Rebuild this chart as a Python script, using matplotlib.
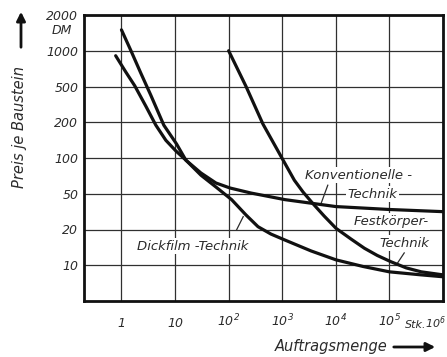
"""Stückpreis je Baustein über der Auftragsmenge für drei Fertigungstechniken."""

import matplotlib

matplotlib.use("Agg")
import matplotlib.pyplot as plt
import numpy as np
from matplotlib.patches import FancyArrowPatch
from matplotlib.ticker import NullLocator

# --- data (x in Stück, y in DM) ---
dick_x = [1, 1.49, 2.29, 3.53, 6.17, 10.7, 15.9, 30.4, 57.9, 114, 210, 353,
          617, 1125, 3450, 1.01e4, 3.24e4, 1.0e5, 3.9e5, 1.0e6]
dick_y = [1500, 1010, 650, 400, 189, 131, 96, 71.7, 57, 42.9, 29.1, 21.5,
          18.3, 16.3, 13.2, 11.1, 9.76, 8.8, 8.3, 8.0]

konv_x = [0.78, 1.20, 1.77, 2.85, 4.38, 6.73, 10.3, 15.9, 30.4, 57.9, 106,
          261, 1125, 1.0e4, 1.0e5, 1.0e6]
konv_y = [908, 664, 507, 302, 189, 141, 115, 96, 74.8, 61.6, 55.9,
          50.7, 43, 36, 33.4, 31.6]

fest_x = [100, 210, 437, 1094, 1683, 2447, 3715, 6040, 1.01e4, 1.93e4,
          3.42e4, 5.92e4, 1.07e5, 2.06e5, 3.93e5, 1.0e6]
fest_y = [1000, 503, 193, 92, 65, 51.7, 39, 28.3, 20.6, 16.6,
          13.9, 12.1, 10.7, 9.5, 8.8, 8.3]

x_ticks = [1, 10, 1e2, 1e3, 1e4, 1e5, 1e6]
x_labels = ["1", "10", "10$^2$", "10$^3$", "10$^4$", "10$^5$", ""]
y_steps = [5, 10, 20, 50, 100, 200, 500, 1000, 2000]
y_ticks = [10, 20, 50, 100, 200, 500, 1000, 2000]
y_labels = ["10", "20", "50", "100", "200", "500", "1000", "2000"]

W, H = 447, 357
INK = "#2b2b2b"

plt.rcParams["font.family"] = "DejaVu Sans"
plt.rcParams["font.style"] = "italic"
plt.rcParams["mathtext.fontset"] = "custom"
plt.rcParams["mathtext.rm"] = "DejaVu Sans:italic"
plt.rcParams["mathtext.it"] = "DejaVu Sans:italic"
plt.rcParams["mathtext.default"] = "rm"

# the price axis is drawn with equal spacing between the 1-2-5 steps
_ylog = np.log10(y_steps)
_yidx = np.arange(len(y_steps), dtype=float)


def _fwd(v):
    lv = np.log10(np.clip(np.asarray(v, dtype=float), 1e-12, None))
    out = np.interp(lv, _ylog, _yidx)
    out = np.where(lv < _ylog[0], (lv - _ylog[0]) / (_ylog[1] - _ylog[0]), out)
    out = np.where(lv > _ylog[-1],
                   _yidx[-1] + (lv - _ylog[-1]) / (_ylog[-1] - _ylog[-2]), out)
    return out


def _inv(i):
    i = np.asarray(i, dtype=float)
    lv = np.interp(i, _yidx, _ylog)
    lv = np.where(i < 0, _ylog[0] + i * (_ylog[1] - _ylog[0]), lv)
    lv = np.where(i > _yidx[-1],
                  _ylog[-1] + (i - _yidx[-1]) * (_ylog[-1] - _ylog[-2]), lv)
    return 10.0 ** lv


def fx(px):
    return px / W


def fy(py):
    return 1 - py / H


fig = plt.figure(figsize=(W / 100, H / 100), dpi=100)
ax = fig.add_axes([fx(84), fy(301), (443 - 84) / W, (301 - 15) / H])

ax.set_xscale("log")
ax.set_yscale("function", functions=(_fwd, _inv))
ax.set_xlim(0.2, 1e6)
ax.set_ylim(5, 2000)

ax.set_xticks(x_ticks, labels=x_labels, va="baseline")
ax.set_yticks(y_ticks, labels=y_labels)
ax.xaxis.set_minor_locator(NullLocator())
ax.yaxis.set_minor_locator(NullLocator())
ax.tick_params(axis="both", length=0, labelsize=9, labelcolor=INK)
ax.tick_params(axis="x", pad=18.5)
ax.tick_params(axis="y", pad=4)
ax.grid(True, color="#303030", linewidth=0.9)
ax.set_axisbelow(True)
for s in ax.spines.values():
    s.set_linewidth(2.0)
    s.set_color("#111111")

for xs, ys in [(dick_x, dick_y), (konv_x, konv_y), (fest_x, fest_y)]:
    ax.plot(xs, ys, color="#111111", linewidth=2.3, solid_capstyle="round",
            solid_joinstyle="round", zorder=5)

box = dict(boxstyle="square,pad=0.12", facecolor="white", edgecolor="none")
lab = dict(fontsize=9.5, color=INK, ha="center", va="center", bbox=box, zorder=3)

ax.text(21.5, 14.5, "Dickfilm -Technik", **lab)
ax.plot([141, 187], [19.9, 27.8], color=INK, linewidth=0.9, zorder=4)

ax.text(2.61e4, 71.7, "Konventionelle -", **lab)
ax.text(4.87e4, 49.5, "Technik", **lab)
ax.plot([7080, 5310], [59, 39], color=INK, linewidth=0.9, zorder=4)

ax.text(1.07e5, 24.6, "Festkörper-", **lab)
ax.text(1.93e5, 15.3, "Technik", **lab)
ax.plot([1.89e5, 1.34e5], [12.7, 10.05], color=INK, linewidth=0.9, zorder=4)

# unit labels and axis titles
fig.text(fx(62), fy(30), "DM", fontsize=9, color=INK, ha="center", va="center")
fig.text(fx(405), fy(328), "Stk.", fontsize=8, color=INK,
         ha="left", va="baseline")
fig.text(fx(446), fy(328), "10$^6$", fontsize=8, color=INK,
         ha="right", va="baseline")

fig.text(fx(20), fy(127), "Preis je Baustein", fontsize=10.5, color=INK,
         rotation=90, ha="center", va="center")
fig.text(fx(331), fy(347), "Auftragsmenge", fontsize=10.5, color=INK,
         ha="center", va="center")

arrow = dict(arrowstyle="-|>", color="#111111", linewidth=2.0, mutation_scale=13)
fig.add_artist(FancyArrowPatch((fx(21), fy(50)), (fx(21), fy(9)),
                               transform=fig.transFigure, **arrow))
fig.add_artist(FancyArrowPatch((fx(391), fy(347)), (fx(438), fy(347)),
                               transform=fig.transFigure, **arrow))

fig.savefig("out.png", dpi=100)
